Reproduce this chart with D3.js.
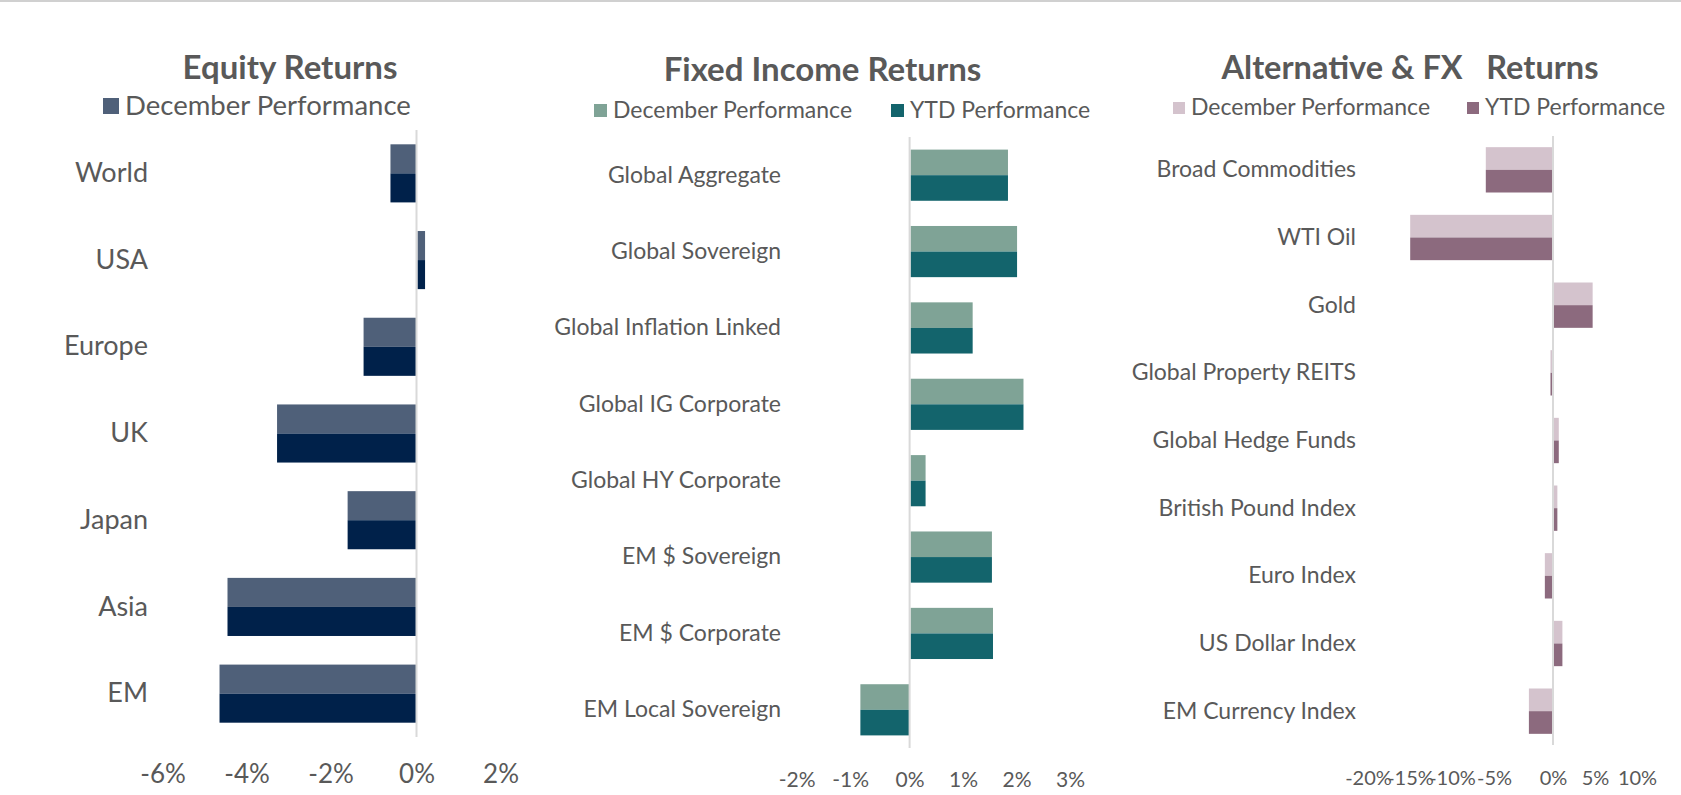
<!DOCTYPE html>
<html><head><meta charset="utf-8">
<script src="https://cdn.jsdelivr.net/npm/d3@7"></script>
<style>
html,body{margin:0;padding:0;background:#fff;}
svg{display:block;font-family:Lato,"Open Sans",sans-serif;}
</style></head><body>
<svg id="chart" width="1681" height="795"></svg>
<script>
// ---------- DATA ----------
const equityCategories = ["World","USA","Europe","UK","Japan","Asia","EM"];
const equityDecember = [-0.62,0.18,-1.26,-3.32,-1.64,-4.50,-4.69];
const equityYTD      = [-0.62,0.18,-1.26,-3.32,-1.64,-4.50,-4.69];
const equityTicks = [-6,-4,-2,0,2];
const equitySeries = ["December Performance"];

const fiCategories = ["Global Aggregate","Global Sovereign","Global Inflation Linked","Global IG Corporate","Global HY Corporate","EM $ Sovereign","EM $ Corporate","EM Local Sovereign"];
const fiDecember = [1.82,1.99,1.16,2.11,0.28,1.52,1.54,-0.92];
const fiYTD      = [1.82,1.99,1.16,2.11,0.28,1.52,1.54,-0.92];
const fiTicks = [-2,-1,0,1,2,3];
const fiSeries = ["December Performance","YTD Performance"];

const altCategories = ["Broad Commodities","WTI Oil","Gold","Global Property REITS","Global Hedge Funds","British Pound Index","Euro Index","US Dollar Index","EM Currency Index"];
const altDecember = [-8.0,-17.0,4.6,-0.3,0.57,0.4,-0.97,1.0,-2.87];
const altYTD      = [-8.0,-17.0,4.6,-0.3,0.57,0.4,-0.97,1.0,-2.87];
const altTicks = [-20,-15,-10,-5,0,5,10];
const altSeries = ["December Performance","YTD Performance"];

const titles = ["Equity Returns","Fixed Income Returns","Alternative & FX   Returns"];

// ---------- LAYOUT ----------
const svg = d3.select("#chart");
const textColor = "#595959";
svg.append("rect").attr("x",0).attr("y",0).attr("width",1681).attr("height",2).attr("fill","#d0d0d0");

const panels = [
  {title:titles[0], cats:equityCategories, dec:equityDecember, ytd:equityYTD, ticks:equityTicks, series:equitySeries,
   domain:[-6,2], xr:[164.5,500.5], yr:[130,737], labelRight:148, catFont:27, tickFont:26, tickBase:783,
   titleX:290, titleY:79, titleFont:33, legendSw:[103], legendY:98, sw:16, legendBase:115, legendFont:27.5,
   colors:["#4f6079","#00214a"], negShift:-2},
  {title:titles[1], cats:fiCategories, dec:fiDecember, ytd:fiYTD, ticks:fiTicks, series:fiSeries,
   domain:[-2,3], xr:[802.6,1070.1], yr:[137,748], labelRight:781, catFont:23, tickFont:21, tickBase:787,
   titleX:822.5, titleY:81, titleFont:33, legendSw:[594,891], legendY:104, sw:13, legendBase:118, legendFont:23,
   colors:["#7fa396","#13646c"], negShift:-6},
  {title:titles[2], cats:altCategories, dec:altDecember, ytd:altYTD, ticks:altTicks, series:altSeries,
   domain:[-20,10], xr:[1385,1637], yr:[136,745], labelRight:1356, catFont:23, tickFont:20, tickBase:785,
   titleX:1410, titleY:79, titleFont:32.5, legendSw:[1173,1467], legendY:102, sw:12, legendBase:115, legendFont:23,
   colors:["#d4c3cd","#8c6a7e"], negShift:-17}
];

panels.forEach(p => {
  const g = svg.append("g");
  const x = d3.scaleLinear().domain(p.domain).range(p.xr);
  const y = d3.scaleBand().domain(p.cats).range(p.yr).paddingInner(0.33).paddingOuter(0.165);
  const sub = d3.scaleBand().domain(["dec","ytd"]).range([0, y.bandwidth()]);

  // title
  g.append("text").attr("x",p.titleX).attr("y",p.titleY).attr("text-anchor","middle")
    .attr("font-size",p.titleFont).attr("font-weight","bold").attr("fill",textColor)
    .style("white-space","pre").text(p.title);

  // legend
  p.series.forEach((s,i) => {
    g.append("rect").attr("x",p.legendSw[i]).attr("y",p.legendY).attr("width",p.sw).attr("height",p.sw)
      .attr("fill",p.colors[i]);
    g.append("text").attr("x",p.legendSw[i]+p.sw+6).attr("y",p.legendBase)
      .attr("font-size",p.legendFont).attr("fill",textColor).text(s);
  });

  // bars
  const rows = p.cats.map((c,i) => ({c, dec:p.dec[i], ytd:p.ytd[i]}));
  ["dec","ytd"].forEach((k,ki) => {
    g.selectAll(null).data(rows).enter().append("rect")
      .attr("x", d => x(Math.min(0,d[k])) + (d[k]>0 ? 1 : 0))
      .attr("y", d => y(d.c) + sub(k))
      .attr("width", d => Math.abs(x(d[k]) - x(0)))
      .attr("height", sub.bandwidth())
      .attr("fill", p.colors[ki]);
  });

  // zero line
  g.append("line").attr("x1",x(0)).attr("x2",x(0)).attr("y1",p.yr[0]).attr("y2",p.yr[1])
    .attr("stroke","#d9d9d9").attr("stroke-width",2);

  // category axis
  const ya = g.append("g").attr("transform",`translate(${p.labelRight},0)`)
    .call(d3.axisLeft(y).tickSize(0).tickPadding(0));
  ya.select(".domain").remove();
  ya.selectAll("text").attr("font-size",p.catFont).attr("fill",textColor).attr("font-family","Lato");

  // value axis
  const xa = g.append("g").attr("transform",`translate(0,${p.tickBase - 0.71*p.tickFont})`)
    .call(d3.axisBottom(x).tickValues(p.ticks).tickFormat(d => `${d}%`).tickSize(0).tickPadding(0));
  xa.select(".domain").remove();
  xa.selectAll("text").attr("font-size",p.tickFont).attr("fill",textColor).attr("font-family","Lato")
    .attr("dx", d => d < 0 ? p.negShift : 0);
});
</script>
</body></html>
